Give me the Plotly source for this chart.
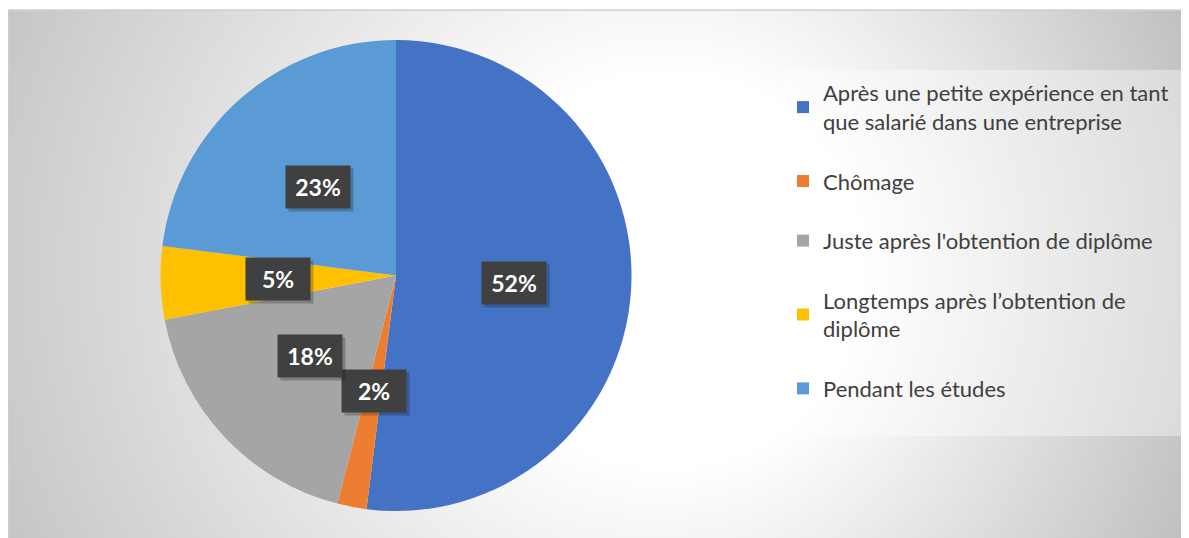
import math
from urllib.parse import quote

import plotly.graph_objects as go

# data
labels = [
    "Après une petite expérience en tant<br>que salarié dans une entreprise",
    "Chômage",
    "Juste après l'obtention de diplôme",
    "Longtemps après l’obtention de<br>diplôme",
    "Pendant les études",
]
values = [52, 2, 18, 5, 23]
colors = ["#4472C4", "#ED7D31", "#A5A5A5", "#FFC000", "#5B9BD5"]

# the page body keeps its default 8px margin, so the figure is drawn 8px
# smaller and all positions below are given in window pixels
OFF = 8
W, H = 1189 - OFF, 538 - OFF
FONT = "Lato, 'Open Sans', sans-serif"


def px_x(x):
    return (x - OFF) / W


def px_y(y):
    return 1 - (y - OFF) / H


# pie geometry (window pixels)
pie_left, pie_right = 160, 632
pie_top, pie_bottom = 40, 511
cx = (pie_left + pie_right) / 2
cy = (pie_top + pie_bottom) / 2
radius = min(pie_right - pie_left, pie_bottom - pie_top) / 2

# chart area background: soft radial gradient, as an svg image
bg_x0, bg_y0 = 8, 10
bg_w, bg_h = 1189 - bg_x0, 538 - bg_y0
svg = (
    f'<svg xmlns="http://www.w3.org/2000/svg" width="{bg_w}" height="{bg_h}" '
    f'viewBox="0 0 {bg_w} {bg_h}" preserveAspectRatio="none">'
    '<defs><radialGradient id="g" gradientUnits="userSpaceOnUse" '
    f'cx="{560 - bg_x0}" cy="{270 - bg_y0}" r="700" fx="{710 - bg_x0}" fy="{270 - bg_y0}">'
    '<stop offset="0" stop-color="#ffffff"/>'
    '<stop offset="0.28" stop-color="#ffffff"/>'
    '<stop offset="1" stop-color="#bcbcbc"/>'
    '</radialGradient></defs>'
    f'<rect width="{bg_w}" height="{bg_h}" fill="url(#g)"/></svg>'
)
bg_src = "data:image/svg+xml;charset=utf-8," + quote(svg)

fig = go.Figure()

fig.add_trace(go.Pie(
    labels=labels,
    values=values,
    marker=dict(colors=colors, line=dict(width=0)),
    sort=False,
    direction="clockwise",
    rotation=0,
    textinfo="none",
    showlegend=False,
    domain=dict(
        x=[px_x(pie_left), px_x(pie_right)],
        y=[px_y(pie_bottom), px_y(pie_top)],
    ),
))

# legend entries (one group each so the gap between them can be set)
for i, (lab, col) in enumerate(zip(labels, colors)):
    fig.add_trace(go.Scatter(
        x=[None], y=[None],
        mode="markers",
        marker=dict(symbol="square", size=12, color=col),
        name=lab,
        legendgroup=f"g{i}",
        showlegend=True,
        hoverinfo="skip",
    ))

# percentage labels in dark boxes, halfway out along each slice's mid angle
total = sum(values)
cum = 0
annotations = []
for v in values:
    theta = 2 * math.pi * (cum + v / 2) / total
    cum += v
    lx = cx + 0.5 * radius * math.sin(theta)
    ly = cy - 0.5 * radius * math.cos(theta)
    pct = f"{round(100 * v / total)}%"
    box = dict(
        x=px_x(lx), y=px_y(ly), xref="paper", yref="paper",
        xanchor="center", yanchor="middle",
        showarrow=False, width=60, height=38, borderpad=2,
    )
    annotations.append(dict(text="", bgcolor="rgba(0,0,0,0.22)",
                            xshift=3, yshift=-3, **box))
    annotations.append(dict(
        text=f"<b>{pct}</b>", bgcolor="#404040",
        font=dict(family=FONT, size=23, color="white"), **box,
    ))

fig.update_layout(
    width=W,
    height=H,
    margin=dict(l=0, r=0, t=0, b=0),
    paper_bgcolor="white",
    plot_bgcolor="rgba(0,0,0,0)",
    xaxis=dict(visible=False),
    yaxis=dict(visible=False),
    font=dict(family=FONT, color="#404040"),
    images=[dict(
        source=bg_src, xref="paper", yref="paper",
        x=px_x(bg_x0), y=px_y(bg_y0), sizex=bg_w / W, sizey=bg_h / H,
        xanchor="left", yanchor="top", sizing="stretch", layer="below",
    )],
    shapes=[
        dict(type="rect", xref="paper", yref="paper",
             x0=px_x(bg_x0), x1=1.01, y0=-0.01, y1=px_y(bg_y0),
             line=dict(color="#d0d0d0", width=1.5), layer="below"),
        dict(type="rect", xref="paper", yref="paper",
             x0=px_x(783), x1=1, y0=px_y(436), y1=px_y(70),
             fillcolor="rgba(255,255,255,0.38)", line=dict(width=0), layer="below"),
    ],
    legend=dict(
        x=px_x(783), y=px_y(72), xanchor="left", yanchor="top",
        bgcolor="rgba(0,0,0,0)",
        font=dict(family=FONT, size=22, color="#404040"),
        itemwidth=30,
        tracegroupgap=28,
        traceorder="grouped",
    ),
    annotations=annotations,
)

fig.write_html("out.html")
